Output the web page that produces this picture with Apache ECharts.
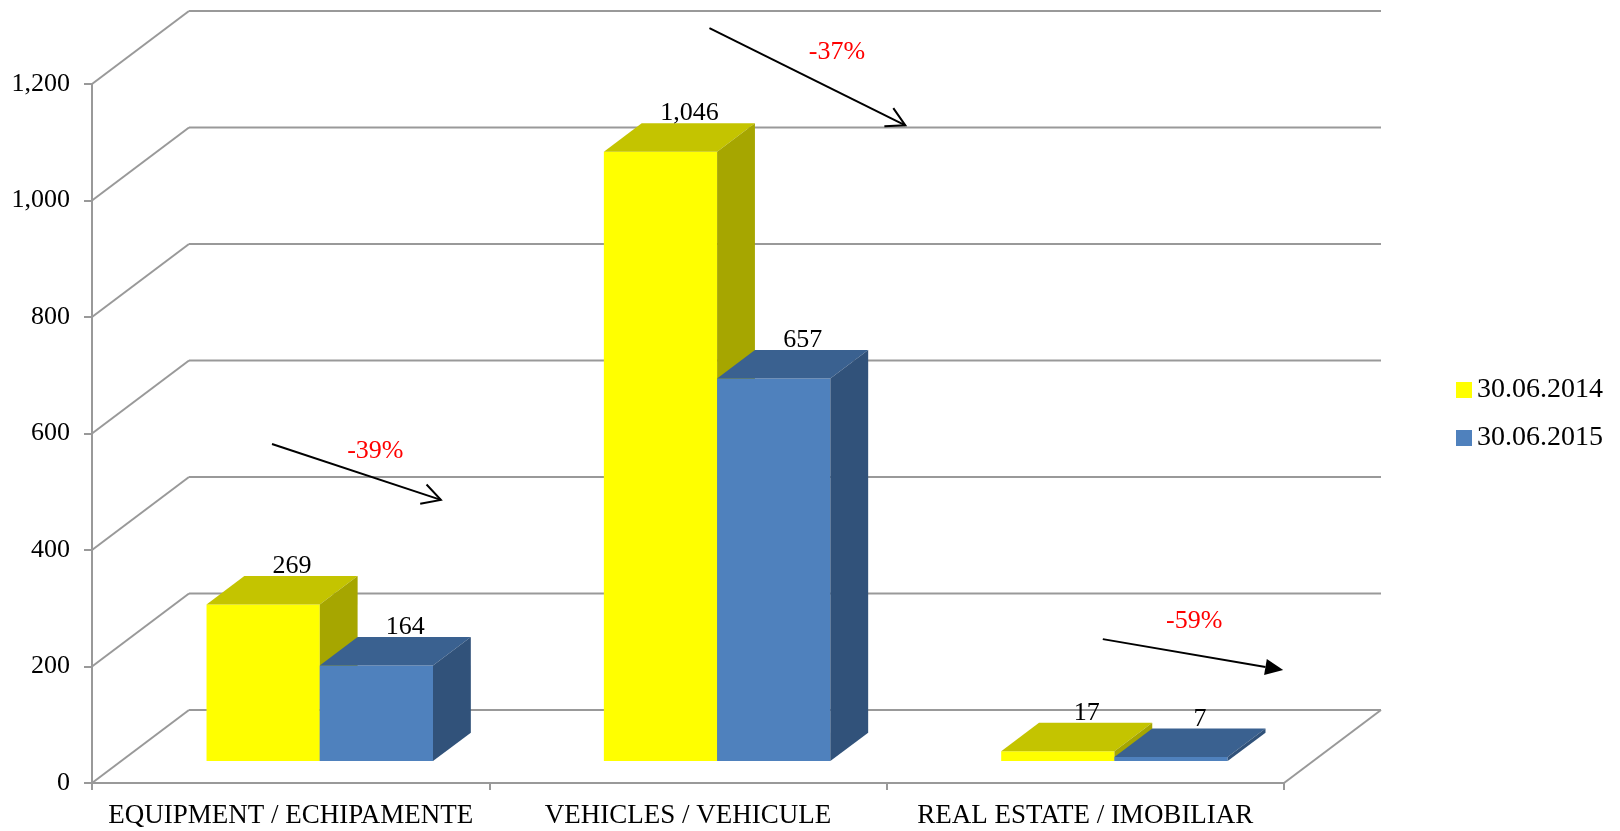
<!DOCTYPE html>
<html>
<head>
    <meta charset="utf-8">
    <script src="https://cdn.jsdelivr.net/npm/echarts@6.0.0/dist/echarts.min.js"></script>
    <style>
        body {
            margin: 0;
            background: #fff;
        }
        #chart {
            width: 1620px;
            height: 831px;
        }
    </style>
</head>
<body>
<div id="chart"></div>
<script>
    // data
    const categories = ['EQUIPMENT / ECHIPAMENTE', 'VEHICLES / VEHICULE', 'REAL ESTATE / IMOBILIAR']
    const seriesNames = ['30.06.2014', '30.06.2015']
    const values2014 = [269, 1046, 17]
    const values2015 = [164, 657, 7]
    const changeLabels = ['-39%', '-37%', '-59%']
    const yTicks = [0, 200, 400, 600, 800, 1000, 1200]

    const FONT = "'Liberation Serif', 'Times New Roman', serif"
    const GRID_COLOR = '#999999'
    // depth of the 3d box in pixels (front plane -> back wall)
    const DX = 97
    const DY = -73
    // bars sit between these depth fractions
    const D0 = 0.3
    const DD = 0.39
    const BAR_FRAC = 0.285

    const chartDom = document.getElementById('chart')
    const chart = echarts.init(chartDom)

    function wallItem(params, api) {
        const v = api.value(1)
        const band = api.size([1, 0])[0]
        const p = api.coord([0, v])
        const xl = p[0] - band / 2
        const xr = xl + band * categories.length
        const y = p[1]
        const st = { stroke: GRID_COLOR, lineWidth: 2 }
        const children = [
            { type: 'line', shape: { x1: xl, y1: y, x2: xl + DX, y2: y + DY }, style: st },
            { type: 'line', shape: { x1: xl + DX, y1: y + DY, x2: xr + DX, y2: y + DY }, style: st }
        ]
        if (v === 0) {
            children.push({ type: 'line', shape: { x1: xr, y1: y, x2: xr + DX, y2: y + DY }, style: st })
        }
        return { type: 'group', children: children }
    }

    function makeBarSeries(name, values, k, colors) {
        return {
            name: name,
            type: 'custom',
            coordinateSystem: 'cartesian2d',
            clip: false,
            z: 3 + k,
            itemStyle: { color: colors[0] },
            encode: { x: 0, y: 1 },
            data: values.map((v, i) => [i, v]),
            renderItem: function(params, api) {
                const ci = api.value(0)
                const v = api.value(1)
                const band = api.size([1, 0])[0]
                const bw = band * BAR_FRAC
                const base = api.coord([ci, 0])
                const top = api.coord([ci, v])
                const ox = D0 * DX
                const oy = D0 * DY
                const ddx = DD * DX
                const ddy = DD * DY
                const x0 = base[0] - bw + k * bw + ox
                const x1 = x0 + bw
                const yT = top[1] + oy
                const yB = base[1] + oy
                const lx = (x0 + x1) / 2 + ddx / 2 + 10
                const ly = yT + ddy / 2 - 24
                return {
                    type: 'group',
                    children: [
                        { type: 'rect', shape: { x: x0, y: yT, width: bw, height: yB - yT }, style: { fill: colors[0] } },
                        { type: 'polygon', shape: { points: [[x0, yT], [x1, yT], [x1 + ddx, yT + ddy], [x0 + ddx, yT + ddy]] }, style: { fill: colors[1] } },
                        { type: 'polygon', shape: { points: [[x1, yT], [x1 + ddx, yT + ddy], [x1 + ddx, yB + ddy], [x1, yB]] }, style: { fill: colors[2] } },
                        { type: 'text', x: lx, y: ly, style: { text: v.toLocaleString('en-US'), fill: '#000', fontSize: 26, fontFamily: FONT, align: 'center', verticalAlign: 'middle' } }
                    ]
                }
            }
        }
    }

    // hand drawn arrows, in band / value units relative to each category
    const arrowSpecs = [
        { from: [-0.047, 582], to: [0.378, 486], text: [0.213, 570], head: 'open' },
        { from: [0.054, 1296], to: [0.547, 1129], text: [0.375, 1255], head: 'open' },
        { from: [0.044, 247], to: [0.498, 194], text: [0.274, 277], head: 'filled' }
    ]

    function arrowItem(params, api) {
        const ci = api.value(0)
        const a = arrowSpecs[ci]
        const band = api.size([1, 0])[0]
        const pt = (c) => {
            const p = api.coord([ci, c[1]])
            return [p[0] + c[0] * band, p[1]]
        }
        const s = pt(a.from)
        const e = pt(a.to)
        const t = pt(a.text)
        const ang = Math.atan2(e[1] - s[1], e[0] - s[0])
        const children = []
        const ls = { stroke: '#000', lineWidth: 2 }
        if (a.head === 'open') {
            const L = 21
            const w = 0.5
            children.push({ type: 'line', shape: { x1: s[0], y1: s[1], x2: e[0], y2: e[1] }, style: ls })
            children.push({ type: 'polyline', shape: { points: [
                [e[0] - L * Math.cos(ang - w), e[1] - L * Math.sin(ang - w)],
                e,
                [e[0] - L * Math.cos(ang + w), e[1] - L * Math.sin(ang + w)]
            ] }, style: { stroke: '#000', lineWidth: 2, fill: null } })
        } else {
            const L = 18
            const w = 0.42
            const bx = e[0] - L * Math.cos(ang)
            const by = e[1] - L * Math.sin(ang)
            children.push({ type: 'line', shape: { x1: s[0], y1: s[1], x2: bx, y2: by }, style: ls })
            children.push({ type: 'polygon', shape: { points: [
                [e[0] - L / Math.cos(w) * Math.cos(ang - w), e[1] - L / Math.cos(w) * Math.sin(ang - w)],
                e,
                [e[0] - L / Math.cos(w) * Math.cos(ang + w), e[1] - L / Math.cos(w) * Math.sin(ang + w)]
            ] }, style: { fill: '#000' } })
        }
        children.push({ type: 'text', x: t[0], y: t[1], style: { text: changeLabels[ci], fill: '#ff0000', fontSize: 26, fontFamily: FONT, align: 'center', verticalAlign: 'middle' } })
        return { type: 'group', children: children }
    }

    const option = {
        animation: false,
        backgroundColor: '#fff',
        grid: {
            left: 92,
            right: 336,
            top: 84,
            bottom: 48,
            containLabel: false
        },
        legend: {
            orient: 'vertical',
            left: 1451,
            top: 371,
            itemWidth: 16,
            itemHeight: 16,
            itemGap: 20,
            icon: 'rect',
            data: seriesNames,
            textStyle: { fontSize: 28, fontFamily: FONT, color: '#000' }
        },
        xAxis: {
            type: 'category',
            data: categories,
            boundaryGap: true,
            axisLine: { show: true, lineStyle: { color: GRID_COLOR, width: 2 } },
            axisTick: { show: true, alignWithLabel: false, length: 7, lineStyle: { color: GRID_COLOR, width: 2 } },
            axisLabel: { interval: 0, margin: 19, fontSize: 27, fontFamily: FONT, color: '#000' },
            splitLine: { show: false }
        },
        yAxis: {
            type: 'value',
            min: 0,
            max: 1200,
            interval: 200,
            axisLine: { show: true, lineStyle: { color: GRID_COLOR, width: 2 } },
            axisTick: { show: true, length: 8, lineStyle: { color: GRID_COLOR, width: 2 } },
            axisLabel: {
                margin: 22,
                fontSize: 26,
                fontFamily: FONT,
                color: '#000',
                formatter: (v) => v.toLocaleString('en-US')
            },
            splitLine: { show: false }
        },
        series: [
            {
                type: 'custom',
                coordinateSystem: 'cartesian2d',
                clip: false,
                silent: true,
                z: 1,
                encode: { x: 0, y: 1 },
                data: yTicks.map(v => [0, v]),
                renderItem: wallItem
            },
            makeBarSeries(seriesNames[0], values2014, 0, ['#ffff00', '#c4c400', '#a6a600']),
            makeBarSeries(seriesNames[1], values2015, 1, ['#4f81bd', '#3a6190', '#31527a']),
            {
                type: 'custom',
                coordinateSystem: 'cartesian2d',
                clip: false,
                silent: true,
                z: 6,
                encode: { x: 0, y: 1 },
                data: changeLabels.map((t, i) => [i, 0]),
                renderItem: arrowItem
            }
        ]
    }
    chart.setOption(option)
</script>
</body>
</html>
